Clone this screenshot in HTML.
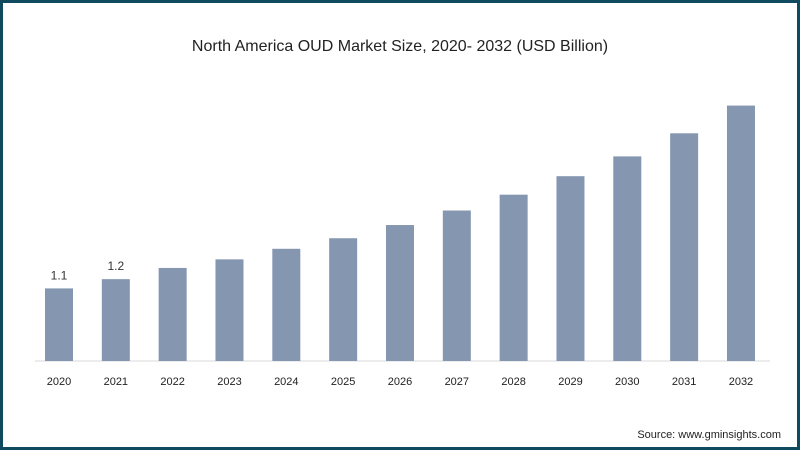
<!DOCTYPE html>
<html><head><meta charset="utf-8"><style>
body{margin:0;width:800px;height:450px;overflow:hidden;background:#fff;font-family:"Liberation Sans",sans-serif}
#frame{position:absolute;left:0;top:0;width:794px;height:444px;border:3px solid #0f4a5e;background:#fff}
</style></head><body>
<div id="frame"></div>
<svg id="chart" width="800" height="450" style="position:absolute;left:0;top:0">
<text x="400" y="51" text-anchor="middle" font-size="16" fill="#222">North America OUD Market Size, 2020- 2032 (USD Billion)</text>
<line x1="35" y1="361" x2="770" y2="361" stroke="#d9d9d9" stroke-width="1"/>
<g id="bars"></g>
<text x="781" y="438" text-anchor="end" font-size="11" fill="#222">Source: www.gminsights.com</text>
</svg>
<script>
const categories=["2020","2021","2022","2023","2024","2025","2026","2027","2028","2029","2030","2031","2032"];
const values=[1.1,1.24,1.41,1.54,1.70,1.86,2.06,2.28,2.52,2.80,3.10,3.45,3.87];
const labels=["1.1","1.2","","","","","","","","","","",""];
const base=361,pxPer=66,x0=45,step=56.83,bw=28;
function xs(i){return x0+i*step;}
function ys(v){return base-v*pxPer;}
const g=document.getElementById('bars'),NS="http://www.w3.org/2000/svg";
categories.forEach((c,i)=>{
 const r=document.createElementNS(NS,'rect');
 r.setAttribute('x',xs(i));r.setAttribute('y',ys(values[i]));
 r.setAttribute('width',bw);r.setAttribute('height',base-ys(values[i]));
 r.setAttribute('fill','#8496b0');
 
 
 g.appendChild(r);
 const t=document.createElementNS(NS,'text');
 t.setAttribute('x',xs(i)+bw/2);t.setAttribute('y',385);
 t.setAttribute('text-anchor','middle');t.setAttribute('font-size','11');t.setAttribute('fill','#222');
 t.textContent=c;
 
 
 g.appendChild(t);
 if(labels[i]){
  const l=document.createElementNS(NS,'text');
  l.setAttribute('x',xs(i)+bw/2);l.setAttribute('y',ys(values[i])-9);
  l.setAttribute('text-anchor','middle');l.setAttribute('font-size','12');l.setAttribute('fill','#333');
  l.textContent=labels[i];
  
  
  g.appendChild(l);
 }
});
</script>
</body></html>
